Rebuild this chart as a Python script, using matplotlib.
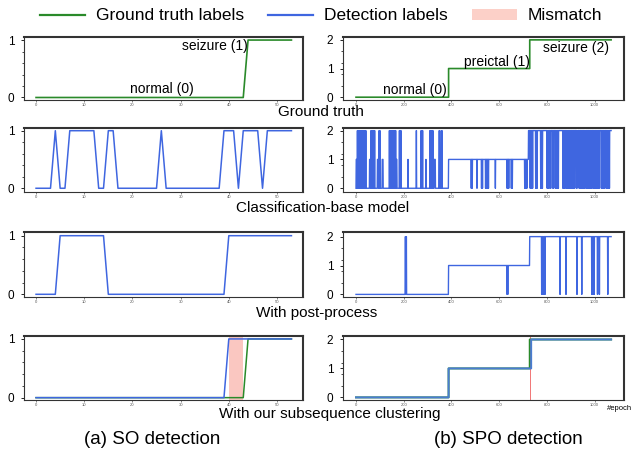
import numpy as np
import matplotlib
matplotlib.use('Agg')
import matplotlib.pyplot as plt
from matplotlib.lines import Line2D
from matplotlib.patches import Patch
from matplotlib.ticker import MultipleLocator

plt.rcParams['font.family'] = ['Liberation Sans', 'DejaVu Sans']

# ---------------- (a) SO detection: one label per epoch (54 epochs) ----------------
so_gt = [0] * 44 + [1] * 10
so_clf = [0, 0, 0, 0, 1, 0, 0, 1, 1, 1, 1, 1, 1, 0, 0, 1, 1, 0, 0, 0,
          0, 0, 0, 0, 0, 0, 1, 0, 0, 0, 0, 0, 0, 0, 0, 0, 0, 0, 0, 1,
          1, 1, 0, 1, 1, 1, 1, 0, 1, 1, 1, 1, 1, 1]
so_post = [0] * 5 + [1] * 10 + [0] * 25 + [1] * 14
so_ours = [0] * 40 + [1] * 14
so_mismatch = (40, 43)

# ---------------- (b) SPO detection: 1070 epochs, three phases ----------------
spo_n = 1070
spo_gt_change = [388, 728]          # normal -> preictal -> seizure
spo_ours_change = [388, 734]
spo_mismatch = (728, 734)

# classification-base model: epochs that leave the phase baseline
clf_to2_in_normal = [6, 8, 10, 13, 16, 22, 25, 28, 32, 35, 38, 41, 63, 66, 69, 72,
                     75, 78, 97, 100, 140, 143, 146, 151, 154, 157, 160, 163, 166,
                     182, 185, 188, 253, 273, 276, 279, 310, 313, 316, 319, 322,
                     349, 351, 360]
clf_to1_in_normal = [1, 2, 3, 4, 57, 58, 59, 60, 90, 91, 92, 93, 110, 111, 112, 113,
                     169, 170, 171, 218, 293, 328, 329, 330, 331, 332]
clf_to0_in_preictal = [483, 487, 507, 526, 530, 543, 547, 551, 555, 584, 633, 637,
                       640, 651, 655, 707, 711, 716]
clf_to2_in_preictal = [723, 724, 725, 726, 727]
clf_to0_in_seizure = [730, 735, 740, 753, 756, 759, 774, 778, 781, 801, 804, 807, 813,
                      816, 825, 828, 836, 839, 842, 845, 848, 867, 870, 873, 876, 882,
                      885, 888, 891, 894, 897, 900, 903, 906, 909, 912, 915, 923, 926,
                      935, 938, 941, 944, 947, 950, 953, 956, 959, 962, 965, 968, 971,
                      974, 977, 980, 983, 986, 989, 995, 998, 1001, 1004, 1007, 1010,
                      1013, 1016, 1019, 1028, 1031, 1034, 1037, 1040, 1043, 1050, 1053,
                      1056, 1059, 1062]
clf_to1_in_seizure = [928, 929, 930, 931, 960, 961, 962]

# post-process
post_to2_in_normal = [207, 209, 211]
post_to0_in_preictal = [633, 636]
post_to0_in_seizure = [778, 780, 785, 787, 792, 855, 880, 926, 946, 988, 993, 998,
                       1012, 1020, 1055, 1075]

GREEN = '#2a8a2a'
BLUE = '#3f66e0'
PINK = '#f7a398'


def phases(changes):
    y = np.zeros(spo_n)
    y[changes[0]:] = 1
    y[changes[1]:] = 2
    return y


def with_events(base, *groups):
    y = base.copy()
    for idx, val in groups:
        idx = np.array([i for i in idx if i < spo_n])
        y[idx] = val
    return y


spo_x = np.arange(spo_n)
spo_gt = phases(spo_gt_change)
spo_clf = with_events(spo_gt, (clf_to2_in_normal, 2), (clf_to1_in_normal, 1),
                      (clf_to0_in_preictal, 0), (clf_to2_in_preictal, 2),
                      (clf_to0_in_seizure, 0), (clf_to1_in_seizure, 1))
spo_post = with_events(spo_gt, (post_to2_in_normal, 2), (post_to0_in_preictal, 0),
                       (post_to0_in_seizure, 0))
spo_ours = phases(spo_ours_change)
so_x = np.arange(len(so_gt))

W, H = 641, 451
fig = plt.figure(figsize=(W / 100, H / 100), dpi=100)


def add_ax(left, right, top, bottom):
    return fig.add_axes([left / W, 1 - bottom / H, (right - left) / W, (bottom - top) / H])


rows = [(37, 99.5), (128, 192), (232, 297), (336, 400)]
left_ylims = [(-0.035, 1.053), (-0.065, 1.047), (-0.046, 1.063), (-0.04, 1.05)]
right_ylims = [(-0.08, 2.1), (-0.13, 2.09), (-0.09, 2.16), (-0.09, 2.12)]


def style(ax, left_col, ylim):
    if left_col:
        ax.set_xlim(-2.5, 55.4)
        ax.set_xticks(range(0, 51, 10))
        ax.set_yticks([0, 1])
        ax.yaxis.set_minor_locator(MultipleLocator(0.2))
    else:
        ax.set_xlim(-54.5, 1123)
        ax.set_xticks(range(0, 1001, 200))
        ax.set_yticks([0, 1, 2])
        ax.yaxis.set_minor_locator(MultipleLocator(0.4))
    ax.set_ylim(*ylim)
    ax.tick_params(axis='x', labelsize=3, length=1.5, width=0.5, pad=1, colors='#555555')
    ax.tick_params(axis='y', which='major', labelsize=8.5, length=2, width=0.6, pad=5)
    ax.tick_params(axis='y', which='minor', length=1.5, width=0.5)
    for s in ['top', 'right']:
        ax.spines[s].set_linewidth(1.5)
        ax.spines[s].set_color('#333333')
    for s in ['left', 'bottom']:
        ax.spines[s].set_linewidth(0.8)
        ax.spines[s].set_color('#333333')


axL = [add_ax(24, 303, t, b) for t, b in rows]
axR = [add_ax(343, 624, t, b) for t, b in rows]

# row 1: ground truth
axL[0].plot(so_x, so_gt, color=GREEN, lw=1.2)
axL[0].text(37.1, 0.89, 'seizure (1)', ha='center', va='center', fontsize=10)
axL[0].text(26.1, 0.14, 'normal (0)', ha='center', va='center', fontsize=10)
axR[0].step(spo_x, spo_gt, where='post', color=GREEN, lw=1.2)
axR[0].text(246, 0.26, 'normal (0)', ha='center', va='center', fontsize=10)
axR[0].text(591, 1.24, 'preictal (1)', ha='center', va='center', fontsize=10)
axR[0].text(922, 1.72, 'seizure (2)', ha='center', va='center', fontsize=10)

# row 2: classification-base model
axL[1].plot(so_x, so_clf, color=BLUE, lw=1.1)
axR[1].plot(spo_x, spo_clf, color=BLUE, lw=1.0)

# row 3: post-process
axL[2].plot(so_x, so_post, color=BLUE, lw=1.1)
axR[2].plot(spo_x, spo_post, color=BLUE, lw=1.0)

# row 4: ours
axL[3].axvspan(*so_mismatch, color=PINK, alpha=0.6, lw=0)
axL[3].plot(so_x, so_gt, color=GREEN, lw=1.1)
axL[3].plot(so_x, so_ours, color=BLUE, lw=1.1)
axR[3].axvspan(*spo_mismatch, color='#f06a6a', alpha=0.9, lw=0)
axR[3].step(spo_x, spo_gt, where='post', color=GREEN, lw=1.4)
axR[3].step(spo_x, spo_ours, where='post', color='#4a7cd0', lw=1.4)

for ax, yl in zip(axL, left_ylims):
    style(ax, True, yl)
for ax, yl in zip(axR, right_ylims):
    style(ax, False, yl)

# captions
fig.text(321 / W, 1 - 112 / H, 'Ground truth', ha='center', va='center', fontsize=11)
fig.text(323 / W, 1 - 208 / H, 'Classification-base model', ha='center', va='center', fontsize=11)
fig.text(317 / W, 1 - 313 / H, 'With post-process', ha='center', va='center', fontsize=11)
fig.text(330 / W, 1 - 414 / H, 'With our subsequence clustering', ha='center', va='center', fontsize=11)
fig.text(620 / W, 1 - 409 / H, '#epoch', ha='center', va='center', fontsize=5.5)
fig.text(152 / W, 1 - 440 / H, '(a) SO detection', ha='center', va='center', fontsize=13.5)
fig.text(508 / W, 1 - 440 / H, '(b) SPO detection', ha='center', va='center', fontsize=13.5)

handles = [Line2D([], [], color=GREEN, lw=1.6),
           Line2D([], [], color=BLUE, lw=1.6),
           Patch(facecolor='#fcd0c8', edgecolor='none')]
fig.legend(handles, ['Ground truth labels', 'Detection labels', 'Mismatch'],
           loc='center', bbox_to_anchor=(321 / W, 1 - 16 / H), ncol=3, frameon=False,
           fontsize=12.5, handlelength=2.6, handletextpad=0.6, columnspacing=1.4,
           handleheight=0.55, borderpad=0)

fig.savefig('out.png', dpi=100)
